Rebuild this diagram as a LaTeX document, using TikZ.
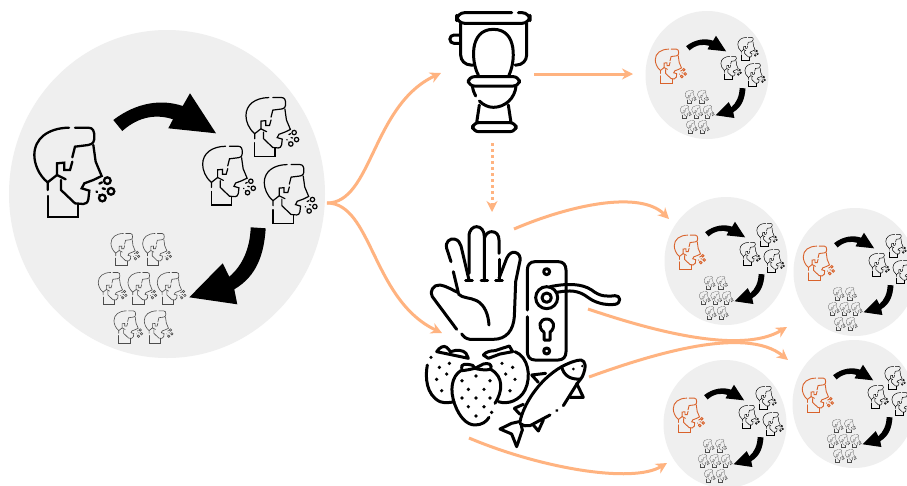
\documentclass[tikz,border=0pt]{standalone}
\usepackage{xcolor}
\usepackage{tikz}
\usetikzlibrary{arrows.meta, shapes.geometric}

\definecolor{bubblegray}{HTML}{EFEFEF}
\definecolor{routeorange}{HTML}{FFB380}
\definecolor{leadorange}{HTML}{D9622B}

\tikzset{
  bubble/.style={ellipse, fill=bubblegray, inner sep=0pt, outer sep=0pt},
  bigbubble/.style={bubble, minimum width=316pt, minimum height=328pt},
  smallbubble/.style={bubble, minimum width=123pt, minimum height=128pt},
  route/.style={draw=routeorange, line width=3pt, -{Stealth[length=11pt,width=11pt]}},
  icon/.style={line width=3pt, line cap=round, line join=round},
  pics/head/.style={code={
    \draw (68,187) .. controls (40,165) and (28,130) .. (28,105) .. controls (28,55) and (70,24) .. (132,23);
    \draw (150,23) -- (190,23) .. controls (205,23) and (208,35) .. (208,50) .. controls (208,65) and (205,72) .. (190,75) -- (150,80) -- (142,112);
    \draw (205,75) -- (212,125) -- (230,168) -- (205,180) -- (178,190) -- (170,205) -- (193,212) -- (190,238) .. controls (188,248) and (182,252) .. (175,252) -- (150,250) -- (108,210) -- (108,180);
    \draw (142,125) -- (135,150) -- (118,150) -- (118,128) -- (96,130) -- (96,165) -- (122,178);
    \draw (96,165) -- (68,187) -- (68,210);
    \draw (68,228) -- (68,290) -- (160,290) -- (160,252);
    \draw (247,182) circle (10) (258,214) circle (10) (232,234) circle (10);
    \draw (223,191) -- (231,187) (214,214) -- (216,216) (223,225) -- (225,227) (233,205) -- (240,207);
  }},
  pics/cycle/.style 2 args={code={
    % the lead head and the two arrows
    \pic[transform shape, color=#1, line width=2.3pt*#2, line cap=round, scale=1/3] at (-142,-74) {head};
    \fill[black] (-53.7,-74) .. controls (-30,-92) and (-5,-95) .. (15.7,-88) -- (23,-100.7) -- (49,-60.7) -- (1.3,-65.7) -- (6,-74.7) .. controls (-10,-80) and (-28,-78) .. (-44.7,-63) -- cycle;
    \fill[black] (83.7,33.3) -- (98.7,34.3) .. controls (97,60) and (90,82) .. (67.3,95.3) -- (70.3,110.3) -- (22.3,103.3) -- (55.7,69.3) -- (62.3,82.7) .. controls (75,72) and (83,55) .. (83.7,33.3) -- cycle;
    % three heads
    \foreach \hx/\hy in {72.8/-101.5, 29.5/-52.8, 91.1/-34.5}
      \pic[transform shape, scale=.22, line width=1.2pt*#2, line cap=round] at (\hx,\hy) {head};
    % seven heads
    \foreach \hx/\hy in {-59.4/36.7, -27.7/36.7, -72.1/75.7, -42.4/75.7, -13.1/75.7, -56.4/114.1, -26.1/114.1}
      \pic[transform shape, scale=.12, color=black!70, line width=.6pt*#2, line cap=round] at (\hx,\hy) {head};
  }},
}

\begin{document}
\begin{tikzpicture}[x=1pt, y=-1pt]
\clip (0,0) rectangle (907,485);
\fill[white] (0,0) rectangle (907,485);

% Large cycle on the left
\node[bigbubble] (srcbubble) at (167,194) {};
\pic at (srcbubble) {cycle={black}{1}};

% Toilet
\begin{scope}[shift={(440,0)}, scale=1/3, icon]
\draw[rounded corners=8] (215,38) -- (50,38) -- (50,70) -- (270,70) -- (270,38) -- (235,38);
\draw[rounded corners=10] (62,70) -- (62,195) -- (100,195);
\draw[rounded corners=10] (260,70) -- (260,195) -- (225,195);
\draw (60,105) -- (42,105) arc[start angle=270, end angle=90, radius=12.5] -- (60,130);
\draw (115,225) .. controls (95,190) and (85,88) .. (160,88) .. controls (235,88) and (225,190) .. (207,225);
\draw[rounded corners=6] (85,230) rectangle (238,258);
\draw (97,258) .. controls (99,270) and (102,280) .. (107,288);
\draw (118,303) .. controls (130,315) and (145,322) .. (160,322) .. controls (195,322) and (225,295) .. (228,258);
\draw (118,315) -- (110,368) (205,315) -- (213,368);
\draw[rounded corners=6] (98,368) rectangle (228,395);
\end{scope}

% Hand
\begin{scope}[shift={(425,220)}, scale=1/3, icon]
\draw (78,125) -- (65,85) .. controls (60,65) and (75,55) .. (88,57) .. controls (100,60) and (105,68) .. (108,78) -- (132,180);
\draw (132,160) -- (132,50) .. controls (132,28) and (145,20) .. (155,20) .. controls (168,20) and (178,32) .. (178,50) -- (178,182);
\draw (178,55) .. controls (182,40) and (192,35) .. (200,35) .. controls (214,35) and (222,45) .. (222,60) -- (222,100);
\draw (222,118) -- (222,182);
\draw (222,175) -- (245,115) .. controls (252,100) and (262,95) .. (270,97) .. controls (282,100) and (287,110) .. (285,122) -- (272,185) -- (268,290) .. controls (265,330) and (245,358) .. (205,358) -- (135,358) .. controls (122,356) and (115,350) .. (110,342);
\draw (122,182) -- (142,182) (168,182) -- (188,182) (212,182) -- (232,182);
\draw (85,155) -- (100,218) .. controls (85,212) and (70,200) .. (45,195) .. controls (25,193) and (12,215) .. (22,230) -- (95,328);
\draw (100,222) .. controls (112,235) and (135,232) .. (155,242) .. controls (180,255) and (190,285) .. (192,315);
\end{scope}

% Door handle
\begin{scope}[shift={(520,255)}, scale=1/3, icon]
\draw (22,165) -- (22,45) .. controls (22,30) and (30,20) .. (45,20) -- (115,20) .. controls (130,20) and (138,30) .. (138,45) -- (138,290) .. controls (138,305) and (130,315) .. (115,315) -- (45,315) .. controls (30,315) and (22,305) .. (22,290) -- (22,185);
\draw (80,50) circle (9) (80,288) circle (9) (80,128) circle (14) (80,128) circle (33);
\draw (110,112) .. controls (150,105) and (175,105) .. (205,128) .. controls (235,150) and (270,150) .. (285,148) .. controls (305,145) and (302,120) .. (285,122) .. controls (260,125) and (240,125) .. (215,105) .. controls (185,85) and (140,85) .. (90,95);
\draw (72,232) -- (72,255) -- (90,255) -- (90,232) .. controls (110,215) and (100,192) .. (80,192) .. controls (60,192) and (50,215) .. (72,232);
\end{scope}

% Strawberries
\begin{scope}[shift={(420,340)}, scale=1/3, icon]
\draw (122,92) .. controls (95,110) and (88,150) .. (105,195) .. controls (118,230) and (140,255) .. (165,255) .. controls (185,255) and (200,245) .. (207,232);
\draw (225,190) .. controls (248,155) and (252,110) .. (212,88) .. controls (195,92) and (175,88) .. (165,85) .. controls (150,88) and (135,92) .. (122,92);
\draw (125,85) .. controls (122,72) and (135,70) .. (158,76) -- (165,85) -- (190,72) .. controls (205,68) and (218,72) .. (212,88);
\draw (22,75) .. controls (15,110) and (18,165) .. (60,185) .. controls (75,190) and (90,188) .. (102,185);
\draw (50,35) .. controls (58,22) and (72,15) .. (80,22) -- (92,35) .. controls (110,28) and (130,30) .. (138,40) -- (145,55) -- (122,50) -- (50,35);
\draw (285,35) .. controls (325,50) and (335,110) .. (315,150) .. controls (300,180) and (265,195) .. (235,185);
\draw (190,45) .. controls (198,35) and (212,32) .. (225,32) -- (268,18) -- (278,35) -- (240,42) -- (205,55) -- (190,45);
\foreach \dx/\dy in {168/108,126/122,210/122,145/148,192/148,126/174,168/174,210/174,145/200,192/200,168/228,215/217,33/52,58/82,88/70,80/102,50/118,65/152,246/70,278/82,257/102,285/118,270/152}
  \fill (\dx,\dy) circle (5.5);
\end{scope}

% Fish
\begin{scope}[shift={(495,355)}, scale=1/3, icon]
\draw (75,200) .. controls (85,150) and (130,75) .. (200,35) .. controls (225,22) and (245,15) .. (258,15) .. controls (272,18) and (275,35) .. (262,65) -- (245,88);
\draw (75,205) .. controls (85,212) and (95,215) .. (105,212) -- (165,180);
\draw (185,167) -- (186,166);
\draw (205,152) -- (245,88);
\draw (200,35) .. controls (205,60) and (225,75) .. (258,72);
\fill (235,42) circle (4.5) (262,33) circle (4);
\draw (110,60) -- (152,55) (110,60) -- (130,82);
\draw (245,85) -- (265,127) -- (225,127);
\draw (115,210) -- (130,228) -- (145,195);
\draw (58,160) -- (85,148) (58,160) -- (75,178);
\draw (72,200) -- (50,205) -- (15,222) -- (50,237) -- (65,275) -- (82,225) -- (78,207);
\end{scope}

% Small cycles on the right
\node[smallbubble] (topbubble) at (707,75) {};
\node[smallbubble] (midbubble) at (726,261) {};
\node[smallbubble] (rightbubble) at (855,272) {};
\node[smallbubble] (lowbubble) at (725,424) {};
\node[smallbubble] (cornerbubble) at (854,404) {};

\pic[scale=.39] at (topbubble) {cycle={leadorange}{.39}};
\pic[scale=.39] at (midbubble) {cycle={leadorange}{.39}};
\pic[scale=.39] at (rightbubble) {cycle={leadorange}{.39}};
\pic[scale=.39] at (lowbubble) {cycle={leadorange}{.39}};
\pic[scale=.39] at (cornerbubble) {cycle={leadorange}{.39}};

% Route ends
\coordinate (srcout) at (327,203);
\coordinate (toiletin) at (441,73);
\coordinate (toiletout) at (534,74);
\coordinate (toiletdown) at (492,143);
\coordinate (handin) at (492,212);
\coordinate (foodin) at (442,333);
\coordinate (handout) at (514,229);
\coordinate (leverout) at (588,309);
\coordinate (fishout) at (589,377);
\coordinate (berryout) at (469,438);
\coordinate (topin) at (633,74);
\coordinate (midin) at (669,219);
\coordinate (rightin) at (787,327);
\coordinate (cornerin) at (788,360);
\coordinate (lowin) at (667,463);

% Routes
\draw[route] (srcout) .. controls (372,203) and (372,105) .. (toiletin);
\draw[route] (srcout) .. controls (372,203) and (372,300) .. (foodin);
\draw[route] (toiletout) -- (topin);
\draw[route, dash pattern=on 3pt off 3pt] (toiletdown) -- (handin);
\draw[route] (handout) .. controls (570,205) and (640,190) .. (midin);
\draw[route] (leverout) .. controls (650,330) and (740,355) .. (rightin);
\draw[route] (fishout) .. controls (650,355) and (745,325) .. (cornerin);
\draw[route] (berryout) .. controls (540,468) and (632,484) .. (lowin);

\end{tikzpicture}
\end{document}
